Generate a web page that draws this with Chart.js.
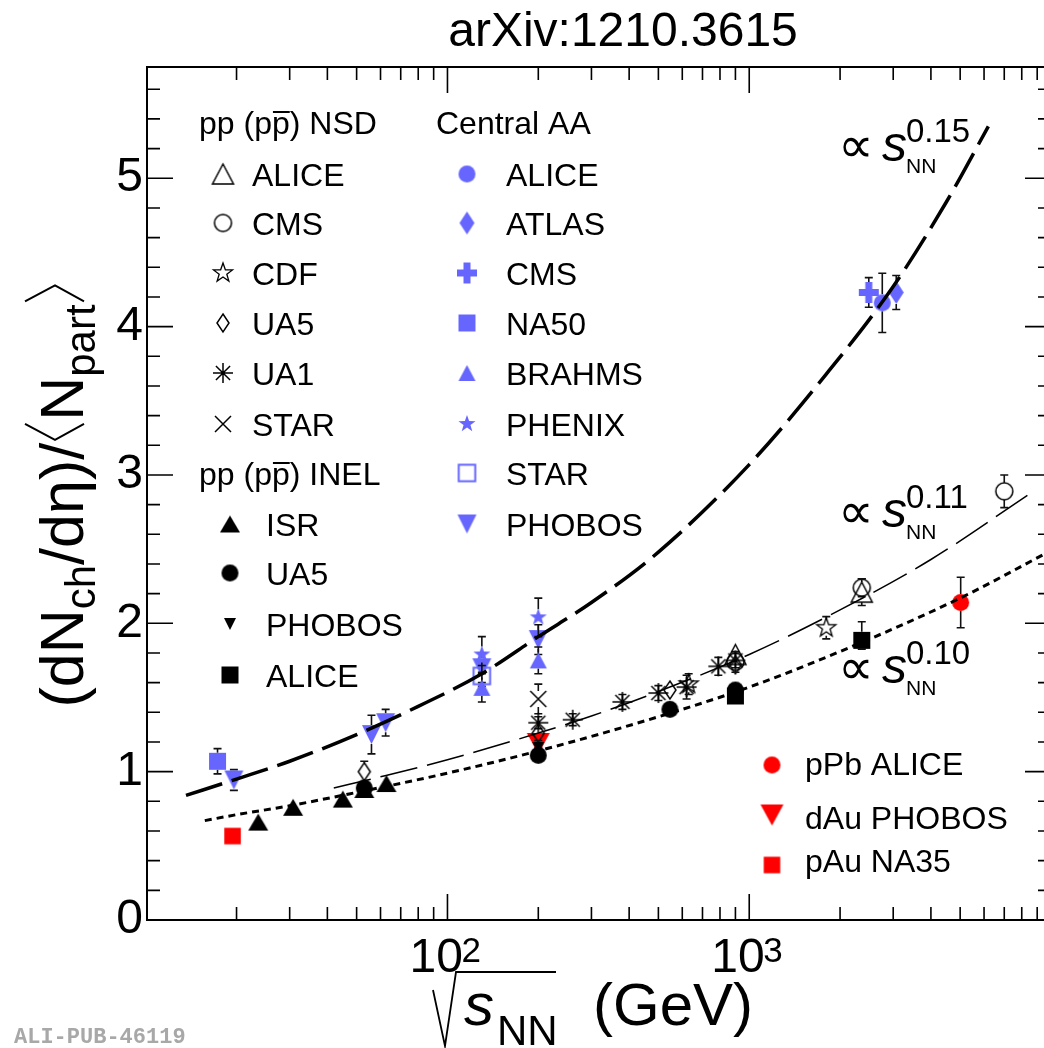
<!DOCTYPE html>
<html>
<head>
<meta charset="utf-8">
<title>dNch/deta per participant vs sqrt(sNN)</title>
<script src="https://cdn.jsdelivr.net/npm/chart.js@4.4.1/dist/chart.umd.min.js"></script>
<style>
html, body { margin: 0; padding: 0; background: #ffffff; overflow: hidden; }
#c { display: block; }
</style>
</head>
<body>
<canvas id="c" width="1060" height="1048"></canvas>
<script>
// ======================= DATA =======================
const xMin = 10.1, xMax = 10000;
const yMin = 0, yMax = 5.75;
const xTickValues = [100, 1000];
const xTickExponents = ['2', '3'];
const yTickValues = [0, 1, 2, 3, 4, 5];

// pp (pp̄) NSD
const nsdAliceE = [900, 2360];
const nsdAliceV = [1.79, 2.21];
const nsdAliceErr = [0.03, 0.09];
const nsdCmsE = [900, 2360, 7000];
const nsdCmsV = [1.74, 2.24, 2.89];
const nsdCmsErr = [0.07, 0.06, 0.11];
const nsdCdfE = [630, 1800];
const nsdCdfV = [1.59, 1.97];
const nsdCdfErr = [0.07, 0.075];
const nsdUa5E = [53, 200, 546, 900];
const nsdUa5V = [1.0, 1.26, 1.55, 1.72];
const nsdUa5Err = [0.07, 0.03, 0.03, 0.03];
const nsdUa1E = [200, 260, 380, 500, 620, 790, 900];
const nsdUa1V = [1.33, 1.35, 1.47, 1.53, 1.57, 1.71, 1.75];
const nsdUa1Err = [0.04, 0.04, 0.05, 0.05, 0.08, 0.06, 0.05];
const nsdStarE = [200];
const nsdStarV = [1.49];
const nsdStarErr = [0.10];

// pp (pp̄) INEL
const inelIsrE = [23.6, 30.8, 45, 53, 62.8];
const inelIsrV = [0.66, 0.76, 0.815, 0.88, 0.92];
const inelUa5E = [53, 200, 546, 900];
const inelUa5V = [0.89, 1.11, 1.42, 1.55];
const inelPhobosE = [200];
const inelPhobosV = [1.16];
const inelPhobosErr = [0.05];
const inelAliceE = [900, 2360];
const inelAliceV = [1.51, 1.885];
const inelAliceErrUp = [0.03, 0.125];
const inelAliceErrDn = [0.03, 0.06];

// Central AA
const aaAliceE = [2760];
const aaAliceV = [4.16];
const aaAliceErr = [0.20];
const aaAtlasE = [3070];
const aaAtlasV = [4.23];
const aaAtlasErr = [0.115];
const aaCmsE = [2490];
const aaCmsV = [4.23];
const aaCmsErr = [0.10];
const aaNa50E = [17.3];
const aaNa50V = [1.07];
const aaNa50Err = [0.085];
const aaBrahmsE = [130, 200];
const aaBrahmsV = [1.565, 1.75];
const aaBrahmsErr = [0.095, 0.09];
const aaPhenixE = [130, 200];
const aaPhenixV = [1.79, 2.04];
const aaPhenixErr = [0.12, 0.13];
const aaStarE = [130];
const aaStarV = [1.645];
const aaStarErr = [0.07];
const aaPhobosE = [19.6, 56, 62.4, 130, 200];
const aaPhobosV = [0.944, 1.25, 1.33, 1.70, 1.89];
const aaPhobosErr = [0.07, 0.13, 0.09, 0.10, 0.10];

// p(d)-A
const pPbE = [5020];
const pPbV = [2.14];
const pPbErr = [0.17];
const dAuE = [200];
const dAuV = [1.19];
const dAuErr = [0.03];
const pAuE = [19.4];
const pAuV = [0.566];

// power-law curves
const fitAaE = [13.6, 20, 30, 50, 80, 130, 200, 300, 500, 1000, 1800, 3000, 4500, 6200];
const fitAaV = [0.84, 0.95, 1.07, 1.25, 1.44, 1.66, 1.91, 2.14, 2.48, 3.07, 3.68, 4.27, 4.84, 5.35];
const fitNsdE = [42, 60, 100, 200, 300, 500, 1000, 2000, 4000, 8600];
const fitNsdV = [0.89, 0.965, 1.08, 1.26, 1.375, 1.54, 1.79, 2.09, 2.43, 2.88];
const fitInelE = [15.7, 20, 30, 50, 100, 200, 500, 1000, 2000, 5000, 10000];
const fitInelV = [0.67, 0.71, 0.77, 0.86, 0.99, 1.14, 1.37, 1.57, 1.81, 2.17, 2.49];

// ======================= STYLE =======================
const FONT = "'Liberation Sans', Arial, Helvetica, sans-serif";
const BLUE = '#6666ff', RED = '#ff0000', BLK = '#000000';

function cv(w, h, fn) {
  const c = document.createElement('canvas');
  c.width = w; c.height = h;
  const g = c.getContext('2d');
  fn(g, w / 2, h / 2);
  return c;
}
function paint(g, fill, stroke, lw) {
  if (fill) { g.fillStyle = fill; g.fill(); }
  if (stroke) { g.lineWidth = lw || 1.5; g.strokeStyle = stroke; g.stroke(); }
}
function circM(r, fill, stroke, lw) {
  return cv(Math.ceil(2 * r + 4), Math.ceil(2 * r + 4), (g, cx, cy) => {
    g.beginPath(); g.arc(cx, cy, r, 0, Math.PI * 2); paint(g, fill, stroke, lw);
  });
}
function rectM(s, fill, stroke, lw) {
  return cv(Math.ceil(s + 4), Math.ceil(s + 4), (g, cx, cy) => {
    g.beginPath(); g.rect(cx - s / 2, cy - s / 2, s, s); paint(g, fill, stroke, lw);
  });
}
function triM(hw, hh, down, fill, stroke, lw) {
  return cv(Math.ceil(2 * hw + 6), Math.ceil(2 * hh + 6), (g, cx, cy) => {
    const s = down ? -1 : 1;
    g.beginPath();
    g.moveTo(cx, cy - s * hh); g.lineTo(cx + hw, cy + s * hh); g.lineTo(cx - hw, cy + s * hh);
    g.closePath(); paint(g, fill, stroke, lw);
  });
}
function diamM(hw, hh, fill, stroke, lw) {
  return cv(Math.ceil(2 * hw + 6), Math.ceil(2 * hh + 6), (g, cx, cy) => {
    g.beginPath();
    g.moveTo(cx, cy - hh); g.lineTo(cx + hw, cy); g.lineTo(cx, cy + hh); g.lineTo(cx - hw, cy);
    g.closePath(); paint(g, fill, stroke, lw);
  });
}
function plusM(hw, hh, t, fill) {
  return cv(Math.ceil(2 * hw + 4), Math.ceil(2 * hh + 4), (g, cx, cy) => {
    g.fillStyle = fill;
    g.fillRect(cx - hw, cy - t / 2, 2 * hw, t);
    g.fillRect(cx - t / 2, cy - hh, t, 2 * hh);
  });
}
function starM(R, fill, stroke, lw) {
  return cv(Math.ceil(2 * R + 6), Math.ceil(2 * R + 6), (g, cx, cy) => {
    const r = R * 0.4;
    g.beginPath();
    for (let i = 0; i < 10; i++) {
      const a = -Math.PI / 2 + i * Math.PI / 5;
      const rr = i % 2 === 0 ? R : r;
      const px = cx + rr * Math.cos(a), py = cy + rr * Math.sin(a);
      if (i === 0) g.moveTo(px, py); else g.lineTo(px, py);
    }
    g.closePath(); paint(g, fill, stroke, lw);
  });
}
function asterM(r, color, lw) {
  return cv(Math.ceil(2 * r + 4), Math.ceil(2 * r + 4), (g, cx, cy) => {
    g.strokeStyle = color; g.lineWidth = lw; g.beginPath();
    const d = r * Math.SQRT1_2;
    g.moveTo(cx - r, cy); g.lineTo(cx + r, cy);
    g.moveTo(cx, cy - r); g.lineTo(cx, cy + r);
    g.moveTo(cx - d, cy - d); g.lineTo(cx + d, cy + d);
    g.moveTo(cx - d, cy + d); g.lineTo(cx + d, cy - d);
    g.stroke();
  });
}
function xM(h, color, lw) {
  return cv(Math.ceil(2 * h + 4), Math.ceil(2 * h + 4), (g, cx, cy) => {
    g.strokeStyle = color; g.lineWidth = lw; g.beginPath();
    g.moveTo(cx - h, cy - h); g.lineTo(cx + h, cy + h);
    g.moveTo(cx - h, cy + h); g.lineTo(cx + h, cy - h);
    g.stroke();
  });
}

const MK = {
  nsdAlice: triM(10.5, 10, false, null, BLK, 1.5),
  nsdCms: circM(8.5, null, BLK, 1.5),
  nsdCdf: starM(10, null, BLK, 1.3),
  nsdUa5: diamM(6, 9, null, BLK, 1.5),
  nsdUa1: asterM(10, BLK, 1.5),
  nsdStar: xM(8, BLK, 1.5),
  inelIsr: triM(10, 8.5, false, BLK),
  inelUa5: circM(8.5, BLK),
  inelPhobos: triM(6, 6, true, BLK),
  inelAlice: rectM(17, BLK),
  aaAlice: circM(8.5, BLUE),
  aaAtlas: diamM(7.5, 11.5, BLUE),
  aaCms: plusM(10, 10.5, 7, BLUE),
  aaNa50: rectM(17, BLUE),
  aaBrahms: triM(8.5, 8, false, BLUE),
  aaPhenix: starM(9, BLUE),
  aaStar: rectM(16.5, null, BLUE, 2),
  aaPhobos: triM(9.5, 9.5, true, BLUE),
  pPb: circM(8.5, RED),
  dAu: triM(11.5, 10.5, true, RED),
  pAu: rectM(16.5, RED)
};

function pts(xs, ys) { return xs.map((x, i) => ({ x: x, y: ys[i] })); }
function series(label, xs, ys, marker, order, errUp, errDn, gap) {
  return {
    label: label, data: pts(xs, ys), pointStyle: marker, pointRadius: 8, pointHoverRadius: 8,
    order: order, showLine: false, errUp: errUp || null, errDn: errDn || errUp || null, errGap: gap || 0
  };
}
function curve(label, xs, ys, width, dash) {
  return {
    type: 'line', label: label, data: pts(xs, ys), borderColor: BLK, borderWidth: width,
    borderDash: dash, pointRadius: 0, cubicInterpolationMode: 'monotone', fill: false, order: 0
  };
}

const datasets = [
  curve('∝ s^0.15', fitAaE, fitAaV, 3.5, [38, 10]),
  curve('∝ s^0.11', fitNsdE, fitNsdV, 1.5, [38, 10]),
  curve('∝ s^0.10', fitInelE, fitInelV, 3, [7, 5]),
  // pp INEL
  series('ISR', inelIsrE, inelIsrV, MK.inelIsr, 1),
  series('UA5 INEL', inelUa5E, inelUa5V, MK.inelUa5, 1),
  series('PHOBOS INEL', inelPhobosE, inelPhobosV, MK.inelPhobos, 1, inelPhobosErr, null, 6),
  series('ALICE INEL', inelAliceE, inelAliceV, MK.inelAlice, 1, inelAliceErrUp, inelAliceErrDn, 8.5),
  // pp NSD
  series('ALICE NSD', nsdAliceE, nsdAliceV, MK.nsdAlice, 2, nsdAliceErr, null, 10),
  series('CMS NSD', nsdCmsE, nsdCmsV, MK.nsdCms, 2, nsdCmsErr, null, 8.5),
  series('CDF', nsdCdfE, nsdCdfV, MK.nsdCdf, 2, nsdCdfErr, null, 8),
  series('UA5 NSD', nsdUa5E, nsdUa5V, MK.nsdUa5, 2, nsdUa5Err, null, 9),
  series('UA1', nsdUa1E, nsdUa1V, MK.nsdUa1, 2, nsdUa1Err, null, 2),
  series('STAR NSD', nsdStarE, nsdStarV, MK.nsdStar, 2, nsdStarErr, null, 8),
  // p(d)A
  series('pPb ALICE', pPbE, pPbV, MK.pPb, 3, pPbErr, null, 8.5),
  series('dAu PHOBOS', dAuE, dAuV, MK.dAu, 3, dAuErr, null, 2),
  series('pAu NA35', pAuE, pAuV, MK.pAu, 3),
  // Central AA
  series('ALICE AA', aaAliceE, aaAliceV, MK.aaAlice, 4, aaAliceErr, null, 8.5),
  series('ATLAS AA', aaAtlasE, aaAtlasV, MK.aaAtlas, 4, aaAtlasErr, null, 11.5),
  series('CMS AA', aaCmsE, aaCmsV, MK.aaCms, 4, aaCmsErr, null, 10.5),
  series('NA50', aaNa50E, aaNa50V, MK.aaNa50, 4, aaNa50Err, null, 8.5),
  series('BRAHMS', aaBrahmsE, aaBrahmsV, MK.aaBrahms, 4, aaBrahmsErr, null, 8),
  series('PHENIX', aaPhenixE, aaPhenixV, MK.aaPhenix, 4, aaPhenixErr, null, 8),
  series('STAR AA', aaStarE, aaStarV, MK.aaStar, 4, aaStarErr, null, 8),
  series('PHOBOS AA', aaPhobosE, aaPhobosV, MK.aaPhobos, 4, aaPhobosErr, null, 9.5)
];

// ======================= PLUGINS =======================
const errPlugin = {
  id: 'errbars',
  beforeDatasetDraw(chart, args) {
    const ds = chart.data.datasets[args.index];
    if (!ds.errUp) return;
    const ctx = chart.ctx, xs = chart.scales.x, ys = chart.scales.y;
    ctx.save();
    ctx.strokeStyle = '#111'; ctx.lineWidth = 1.6;
    ds.data.forEach((p, i) => {
      const up = ds.errUp[i], dn = ds.errDn[i];
      const px = xs.getPixelForValue(p.x), py = ys.getPixelForValue(p.y);
      const y1 = ys.getPixelForValue(p.y + up), y2 = ys.getPixelForValue(p.y - dn);
      const g = ds.errGap;
      ctx.beginPath();
      if (py - y1 > g) { ctx.moveTo(px, py - g); ctx.lineTo(px, y1); ctx.moveTo(px - 4, y1); ctx.lineTo(px + 4, y1); }
      if (y2 - py > g) { ctx.moveTo(px, py + g); ctx.lineTo(px, y2); ctx.moveTo(px - 4, y2); ctx.lineTo(px + 4, y2); }
      ctx.stroke();
    });
    ctx.restore();
  }
};

function txt(ctx, t, x, y, size, o) {
  o = o || {};
  ctx.font = (o.italic ? 'italic ' : '') + (o.weight ? o.weight + ' ' : '') + (o.bold ? 'bold ' : '') + size + 'px ' + (o.family || FONT);
  ctx.fillStyle = o.color || BLK;
  ctx.textAlign = o.align || 'left';
  ctx.textBaseline = o.baseline || 'alphabetic';
  ctx.fillText(t, x, y);
  return ctx.measureText(t).width;
}
function ppHeader(ctx, x, y, tail) {
  let w = txt(ctx, 'pp (p', x, y, 32);
  const pw = txt(ctx, 'p', x + w, y, 32);
  ctx.fillStyle = BLK;
  ctx.fillRect(x + w + 1, y - 23, pw - 1, 2);
  w += pw;
  txt(ctx, ') ' + tail, x + w, y, 32);
}
function mark(ctx, m, x, y) { ctx.drawImage(m, x - m.width / 2, y - m.height / 2); }
function propLabel(ctx, exp, supBase) {
  txt(ctx, '∝', 838, supBase + 20, 50, { family: "'DejaVu Sans', sans-serif", weight: 200 });
  txt(ctx, 's', 882, supBase + 19, 50, { italic: true });
  txt(ctx, exp, 906, supBase, 33);
  txt(ctx, 'NN', 906, supBase + 31, 21);
}

const decoPlugin = {
  id: 'deco',
  afterDraw(chart) {
    const ctx = chart.ctx, xs = chart.scales.x, ys = chart.scales.y;
    const a = chart.chartArea;
    ctx.save();
    // frame
    ctx.strokeStyle = BLK; ctx.lineWidth = 2;
    ctx.strokeRect(a.left, a.top, a.right - a.left, a.bottom - a.top);
    // ticks
    ctx.lineWidth = 1.6; ctx.beginPath();
    for (let d = 1; d <= 3; d++) {
      for (let m = 1; m <= 9; m++) {
        const v = m * Math.pow(10, d);
        if (v <= xMin || v >= xMax) continue;
        const px = xs.getPixelForValue(v), L = m === 1 ? 26 : 13;
        ctx.moveTo(px, a.bottom); ctx.lineTo(px, a.bottom - L);
        ctx.moveTo(px, a.top); ctx.lineTo(px, a.top + L);
      }
    }
    for (let i = 0; i * 0.2 <= yMax + 1e-9; i++) {
      const py = ys.getPixelForValue(i / 5), L = i % 5 === 0 ? 26 : 13;
      ctx.moveTo(a.left, py); ctx.lineTo(a.left + L, py);
      ctx.moveTo(a.right, py); ctx.lineTo(a.right - L, py);
    }
    ctx.stroke();
    // x tick labels 10^n
    xTickValues.forEach((v, i) => {
      const px = xs.getPixelForValue(v);
      txt(ctx, '10', px - 38, 972, 48);
      txt(ctx, xTickExponents[i], px + 14, 962, 35);
    });
    // title
    txt(ctx, 'arXiv:1210.3615', 623, 46, 48, { align: 'center' });
    // x axis title
    ctx.lineWidth = 1.8; ctx.strokeStyle = BLK;
    ctx.beginPath(); ctx.moveTo(433, 990); ctx.lineTo(445, 1046); ctx.lineTo(456, 972); ctx.lineTo(556, 972); ctx.stroke();
    txt(ctx, 's', 464, 1025, 60, { italic: true });
    txt(ctx, 'NN', 497, 1045, 42);
    txt(ctx, '(GeV)', 593, 1025, 60);
    // y axis title
    ctx.save();
    ctx.translate(83, 495); ctx.rotate(-Math.PI / 2);
    const parts = [
      { t: '(dN', s: 61, dy: 0 }, { t: 'ch', s: 42, dy: 12 }, { t: '/dη)/', s: 61, dy: 0 },
      { br: 'L', w: 22 }, { t: 'N', s: 61, dy: 0 }, { t: 'part', s: 42, dy: 12 }, { br: 'R', w: 22 }
    ];
    let total = 0;
    parts.forEach(p => {
      if (p.br) { total += p.w; return; }
      ctx.font = p.s + 'px ' + FONT; p.w = ctx.measureText(p.t).width; total += p.w;
    });
    let u = -total / 2;
    ctx.lineWidth = 2; ctx.strokeStyle = BLK;
    parts.forEach(p => {
      if (p.br === 'L') {
        ctx.beginPath(); ctx.moveTo(u + 19, -58); ctx.lineTo(u + 3, -28); ctx.lineTo(u + 19, 1); ctx.stroke();
      } else if (p.br === 'R') {
        ctx.beginPath(); ctx.moveTo(u + 3, -58); ctx.lineTo(u + 19, -28); ctx.lineTo(u + 3, 1); ctx.stroke();
      } else {
        txt(ctx, p.t, u, p.dy, p.s);
      }
      u += p.w;
    });
    ctx.restore();
    // power-law labels
    propLabel(ctx, '0.15', 142);
    propLabel(ctx, '0.11', 508);
    propLabel(ctx, '0.10', 664);
    // legend: pp NSD
    ppHeader(ctx, 199, 134, 'NSD');
    const nsdRows = [['ALICE', MK.nsdAlice], ['CMS', MK.nsdCms], ['CDF', MK.nsdCdf], ['UA5', MK.nsdUa5], ['UA1', MK.nsdUa1], ['STAR', MK.nsdStar]];
    const nsdBase = [186, 235, 285, 335, 385, 436];
    nsdRows.forEach((r, i) => { mark(ctx, r[1], 223, nsdBase[i] - 12); txt(ctx, r[0], 252, nsdBase[i], 32); });
    // legend: pp INEL
    ppHeader(ctx, 199, 485, 'INEL');
    const inelRows = [['ISR', MK.inelIsr], ['UA5', MK.inelUa5], ['PHOBOS', MK.inelPhobos], ['ALICE', MK.inelAlice]];
    const inelBase = [536, 585, 636, 687];
    inelRows.forEach((r, i) => { mark(ctx, r[1], 230, inelBase[i] - 12); txt(ctx, r[0], 266, inelBase[i], 32); });
    // legend: Central AA
    txt(ctx, 'Central AA', 436, 134, 32);
    const aaRows = [['ALICE', MK.aaAlice], ['ATLAS', MK.aaAtlas], ['CMS', MK.aaCms], ['NA50', MK.aaNa50], ['BRAHMS', MK.aaBrahms], ['PHENIX', MK.aaPhenix], ['STAR', MK.aaStar], ['PHOBOS', MK.aaPhobos]];
    const aaBase = [186, 235, 285, 335, 385, 436, 485, 536];
    aaRows.forEach((r, i) => { mark(ctx, r[1], 467, aaBase[i] - 12); txt(ctx, r[0], 506, aaBase[i], 32); });
    // legend: p(d)A
    const paRows = [['pPb ALICE', MK.pPb, 765, 775], ['dAu PHOBOS', MK.dAu, 815, 829], ['pAu NA35', MK.pAu, 865, 872]];
    paRows.forEach(r => { mark(ctx, r[1], 772, r[2]); txt(ctx, r[0], 805, r[3], 32); });
    // stamp
    txt(ctx, 'ALI-PUB-46119', 14, 1043, 22, { bold: true, family: "'Liberation Mono', 'DejaVu Sans Mono', monospace", color: '#a8a8a8' });
    ctx.restore();
  }
};

// ======================= CHART =======================
Chart.defaults.font.family = FONT;
new Chart(document.getElementById('c'), {
  type: 'scatter',
  data: { datasets: datasets },
  options: {
    responsive: false,
    animation: false,
    devicePixelRatio: 1,
    layout: { padding: { top: 67, right: 8, bottom: 128, left: 0 } },
    plugins: { legend: { display: false }, tooltip: { enabled: false }, title: { display: false } },
    scales: {
      x: { type: 'logarithmic', min: xMin, max: xMax, display: false },
      y: {
        type: 'linear', min: yMin, max: yMax, display: true,
        afterFit(s) { s.width = 147; },
        grid: { display: false, drawTicks: false }, border: { display: false },
        ticks: {
          stepSize: 1, padding: 4, color: BLK, font: { family: FONT, size: 48 },
          callback: (v) => (yTickValues.indexOf(v) >= 0 ? String(v) : '')
        }
      }
    }
  },
  plugins: [errPlugin, decoPlugin]
});
</script>
</body>
</html>
